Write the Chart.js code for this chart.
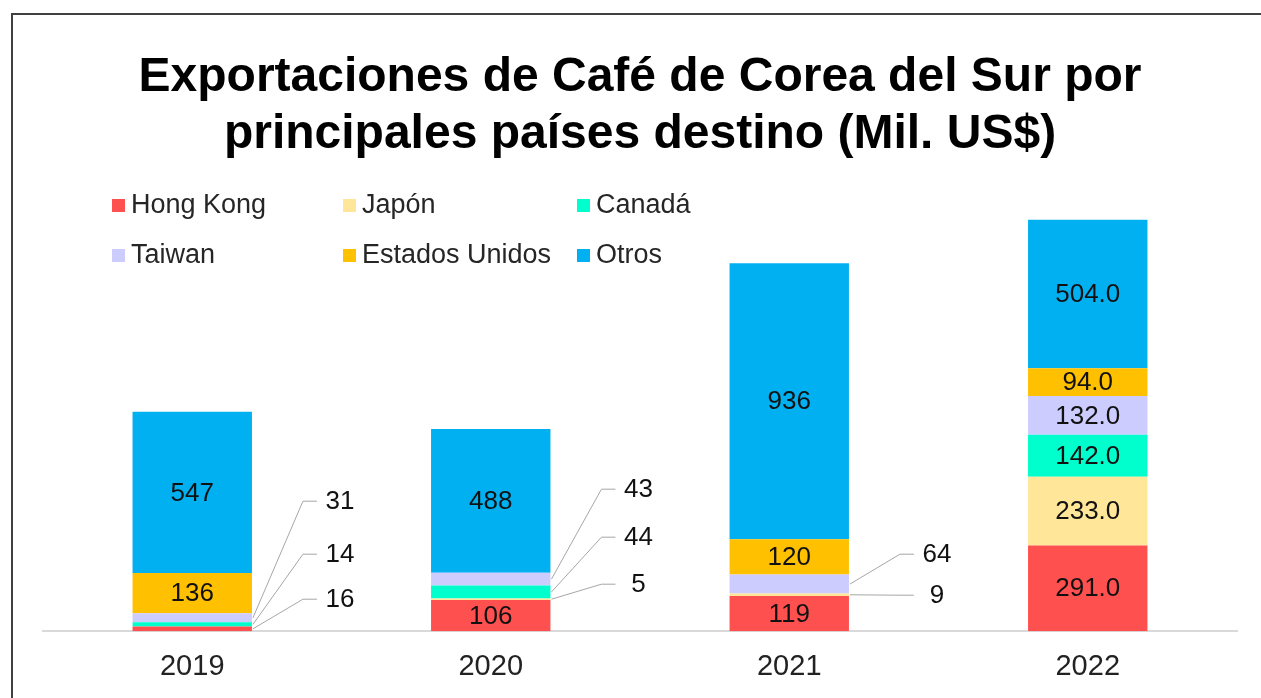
<!DOCTYPE html>
<html>
<head>
<meta charset="utf-8">
<script src="https://cdn.jsdelivr.net/npm/chart.js@4"></script>
<style>
  html, body { margin: 0; padding: 0; background: #fff; overflow: hidden; }
  #wrap { position: relative; width: 1261px; height: 698px; overflow: hidden; }
  #frame { position: absolute; left: 11px; top: 13px; width: 1320px; height: 740px;
           border: 2px solid #404040; box-sizing: border-box; pointer-events: none; }
</style>
</head>
<body>
<div id="wrap">
  <canvas id="c" width="1261" height="702"></canvas>
  <div id="frame"></div>
</div>
<script>
const categories = ['2019', '2020', '2021', '2022'];
const hongKong = [16, 106, 119, 291];
const japon = [null, 5, 9, 233];
const canada = [14, 44, null, 142];
const taiwan = [31, 43, 64, 132];
const estadosUnidos = [136, null, 120, 94];
const otros = [547, 488, 936, 504];
const seriesNames = ['Hong Kong', 'Japón', 'Canadá', 'Taiwan', 'Estados Unidos', 'Otros'];
const labelDecimals = [0, 0, 0, 1];
const titleLines = ['Exportaciones de Café de Corea del Sur por', 'principales países destino (Mil. US$)'];

const seriesValues = [hongKong, japon, canada, taiwan, estadosUnidos, otros];
const seriesColors = ['#FF5050', '#FFE699', '#00FFCC', '#CCCCFF', '#FFC000', '#00B0F0'];

const FONT = '"Liberation Sans", Arial, sans-serif';

const barLabels = {
  id: 'barLabels',
  afterDatasetsDraw(chart, args, opts) {
    const ctx = chart.ctx;
    const base0 = chart.scales.y.getPixelForValue(0);
    ctx.save();
    ctx.font = opts.size + 'px ' + FONT;
    ctx.fillStyle = opts.color;
    ctx.textAlign = 'center';
    ctx.textBaseline = 'middle';
    chart.data.datasets.forEach((ds, i) => {
      const meta = chart.getDatasetMeta(i);
      meta.data.forEach((bar, j) => {
        const v = ds.data[j];
        if (v == null || v === 0) return;
        const p = bar.getProps(['x', 'y', 'base', 'width'], true);
        const h = Math.abs(p.base - p.y);
        const cy = (p.y + p.base) / 2;
        const txt = v.toFixed(labelDecimals[j]);
        if (h >= opts.minInside) {
          ctx.fillText(txt, p.x, cy + 1);
        } else {
          const c = opts.callouts.find(e => e[0] === i && e[1] === j);
          if (!c) return;
          const ly = base0 - c[2];
          const right = p.x + p.width / 2;
          const lx = right + opts.calloutDx;
          ctx.strokeStyle = opts.lineColor;
          ctx.lineWidth = 1;
          ctx.beginPath();
          ctx.moveTo(right + 1, cy);
          ctx.lineTo(lx - 37, ly);
          ctx.lineTo(lx - 23, ly);
          ctx.stroke();
          ctx.fillText(txt, lx, ly + 1);
        }
      });
    });
    ctx.restore();
  }
};

const gridLegend = {
  id: 'gridLegend',
  afterDraw(chart, args, opts) {
    const ctx = chart.ctx;
    ctx.save();
    ctx.font = opts.size + 'px ' + FONT;
    ctx.textAlign = 'left';
    ctx.textBaseline = 'middle';
    chart.data.datasets.forEach((ds, i) => {
      const col = i % opts.cols.length;
      const row = Math.floor(i / opts.cols.length);
      const x = opts.cols[col], y = opts.rows[row];
      ctx.fillStyle = ds.backgroundColor;
      ctx.fillRect(x, y - 6, 13, 13);
      ctx.fillStyle = opts.color;
      ctx.fillText(ds.label, x + 19, y + 1);
    });
    ctx.restore();
  }
};

new Chart(document.getElementById('c'), {
  type: 'bar',
  data: {
    labels: categories,
    datasets: seriesNames.map((name, i) => ({
      label: name,
      data: seriesValues[i],
      backgroundColor: seriesColors[i],
      borderWidth: 0,
      barPercentage: 0.4,
      categoryPercentage: 1.0
    }))
  },
  options: {
    responsive: false,
    animation: false,
    devicePixelRatio: 1,
    layout: { padding: { left: 43, right: 24, top: 0, bottom: 0 } },
    scales: {
      x: {
        stacked: true,
        grid: { display: false, drawTicks: false },
        border: { display: true, color: '#d9d9d9', width: 2 },
        ticks: { color: '#222', font: { family: FONT, size: 29 }, padding: 18 }
      },
      y: {
        stacked: true,
        display: false,
        min: 0,
        max: 1500
      }
    },
    plugins: {
      legend: { display: false },
      tooltip: { enabled: false },
      title: {
        display: true,
        text: titleLines,
        color: '#000',
        font: { family: FONT, size: 48, weight: 'bold', lineHeight: 1.1875 },
        padding: { top: 49, bottom: 26 }
      },
      barLabels: {
        size: 26,
        color: '#111',
        minInside: 20,
        lineColor: '#a6a6a6',
        calloutDx: 88,
        callouts: [[0, 0, 32], [2, 0, 77], [3, 0, 130],
                   [1, 1, 47], [2, 1, 94], [3, 1, 142],
                   [1, 2, 36], [3, 2, 77]]
      },
      gridLegend: {
        size: 27,
        color: '#262626',
        cols: [112, 343, 577],
        rows: [205, 255]
      }
    }
  },
  plugins: [barLabels, gridLegend]
});
</script>
</body>
</html>
